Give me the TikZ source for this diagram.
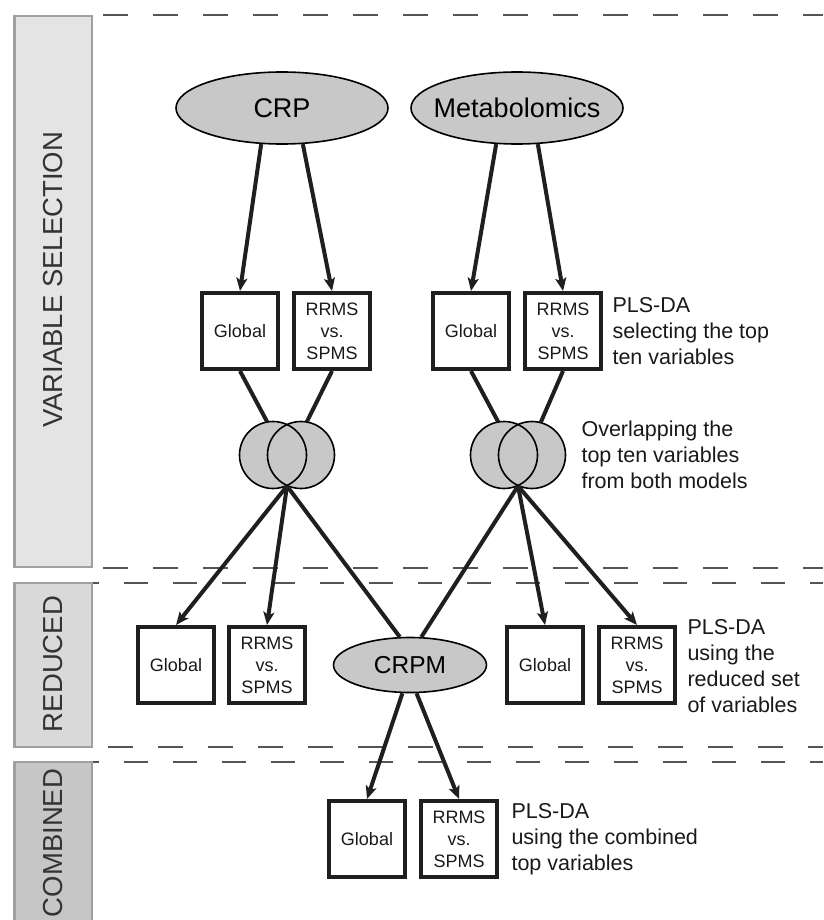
\documentclass[tikz,border=0pt]{standalone}
\usepackage{fontspec}
\setmainfont{Liberation Sans}
\usetikzlibrary{shapes.geometric,arrows.meta}
\definecolor{fuellgrau}{HTML}{C8C8C8}
\definecolor{balkenA}{HTML}{E4E4E4}
\definecolor{balkenB}{HTML}{D9D9D9}
\definecolor{balkenC}{HTML}{C6C6C6}
\definecolor{randgrau}{HTML}{A0A0A0}
\definecolor{strichgrau}{HTML}{555555}

\begin{document}
\begin{tikzpicture}[x=1pt,y=-1pt,
    box/.style={draw=black!88, line width=4pt, minimum size=76pt, inner sep=0pt, align=center, text=black!90, font=\fontsize{18}{22}\selectfont},
    quelle/.style={ellipse, draw=black, fill=fuellgrau, line width=1.6pt, inner xsep=-15pt, inner ysep=0pt, font=\fontsize{27}{30}\selectfont},
    kreis/.style={circle, fill=fuellgrau, minimum size=67pt, inner sep=0pt},
    pfeil/.style={line width=4pt, draw=black!88, -{Stealth[length=13pt,width=11pt,inset=3pt]}},
    linie/.style={line width=4pt, draw=black!88},
    trenn/.style={line width=1.7pt, draw=strichgrau, dash pattern=on 25pt off 25pt},
    balken/.style={draw=randgrau, line width=2.5pt},
    seite/.style={rotate=90, text=black!80, font=\fontsize{27.5}{30}\selectfont},
    notiz/.style={anchor=west, align=left, text=black!90, font=\fontsize{21.5}{26}\selectfont}]

    \useasboundingbox (0,0) rectangle (823,920);

    % Seitenbalken mit den drei Abschnitten
    \filldraw[balken, fill=balkenA] (14.5,16) rectangle (92,567);
    \filldraw[balken, fill=balkenB] (14.5,583) rectangle (92,747);
    \filldraw[balken, fill=balkenC] (14.5,762) rectangle (92,940);
    \node[seite] (vs) at (53,280) {VARIABLE SELECTION};
    \node[seite] (red) at (53,664) {REDUCED};
    \node[seite] (comb) at (53,843) {COMBINED};

    % Gestrichelte Trennlinien
    \draw[trenn] (103,15) -- (823,15);
    \draw[trenn] (103,568) -- (823,568);
    \draw[trenn, dash pattern=on 24pt off 25pt, dash phase=18pt] (93,583) -- (823,583);
    \draw[trenn] (108,747) -- (823,747);
    \draw[trenn, dash pattern=on 24pt off 25pt, dash phase=18pt] (93,762) -- (823,762);

    % Datenquellen
    \node[quelle, minimum width=212pt, minimum height=72pt] (crp) at (282,108) {CRP};
    \node[quelle, minimum width=212pt, minimum height=72pt] (metab) at (517,108) {Metabolomics};
    \node[quelle, minimum width=153pt, minimum height=55pt, font=\fontsize{24.5}{28}\selectfont] (crpm) at (410,665) {CRPM};

    % Modelle
    \node[box] (ga) at (240,331) {Global};
    \node[box] (ra) at (332,331) {RRMS\\vs.\\SPMS};
    \node[box] (gb) at (471,331) {Global};
    \node[box] (rb) at (563,331) {RRMS\\vs.\\SPMS};
    \node[box] (gc) at (176,665) {Global};
    \node[box] (rc) at (267,665) {RRMS\\vs.\\SPMS};
    \node[box] (gd) at (545,665) {Global};
    \node[box] (rd) at (637,665) {RRMS\\vs.\\SPMS};
    \node[box] (ge) at (367,839) {Global};
    \node[box] (re) at (459,839) {RRMS\\vs.\\SPMS};

    % Venn-Kreise: erst fuellen, dann umranden
    \foreach \n/\x in {vl1/273, vr1/301, vl2/504, vr2/532} {
        \node[kreis] (\n) at (\x,455) {};
    }
    \foreach \n in {vl1,vr1,vl2,vr2} {
        \draw[line width=1.6pt] (\n.center) circle (33.5pt);
    }
    \coordinate (s1) at (287,486);
    \coordinate (s2) at (518,486);

    % Verbindungen
    \draw[pfeil] (crp.240) -- (ga.north);
    \draw[pfeil] (crp.300) -- (ra.north);
    \draw[pfeil] (metab.240) -- (gb.north);
    \draw[pfeil] (metab.300) -- (rb.north);
    \draw[linie] (ga.south) -- (vl1.100);
    \draw[linie] (ra.south) -- (vr1.80);
    \draw[linie] (gb.south) -- (vl2.100);
    \draw[linie] (rb.south) -- (vr2.75);
    \draw[pfeil] (s1) -- (gc.north);
    \draw[pfeil] (s1) -- (rc.north);
    \draw[linie] (s1) -- (crpm.110);
    \draw[linie] (s2) -- (crpm.68);
    \draw[pfeil] (s2) -- (gd.north);
    \draw[pfeil] (s2) -- (rd.north);
    \draw[pfeil] (crpm.255) -- (ge.north);
    \draw[pfeil] (crpm.283) -- (re.north);

    % Beschriftungen
    \node[notiz] (n1) at (609,331) {PLS-DA\\selecting the top\\ten variables};
    \node[notiz] (n2) at (578,455) {Overlapping the\\top ten variables\\from both models};
    \node[notiz] (n3) at (684,666) {PLS-DA\\using the\\reduced set\\of variables};
    \node[notiz] (n4) at (508,839) {PLS-DA\\using the combined\\top variables};
\end{tikzpicture}
\end{document}
